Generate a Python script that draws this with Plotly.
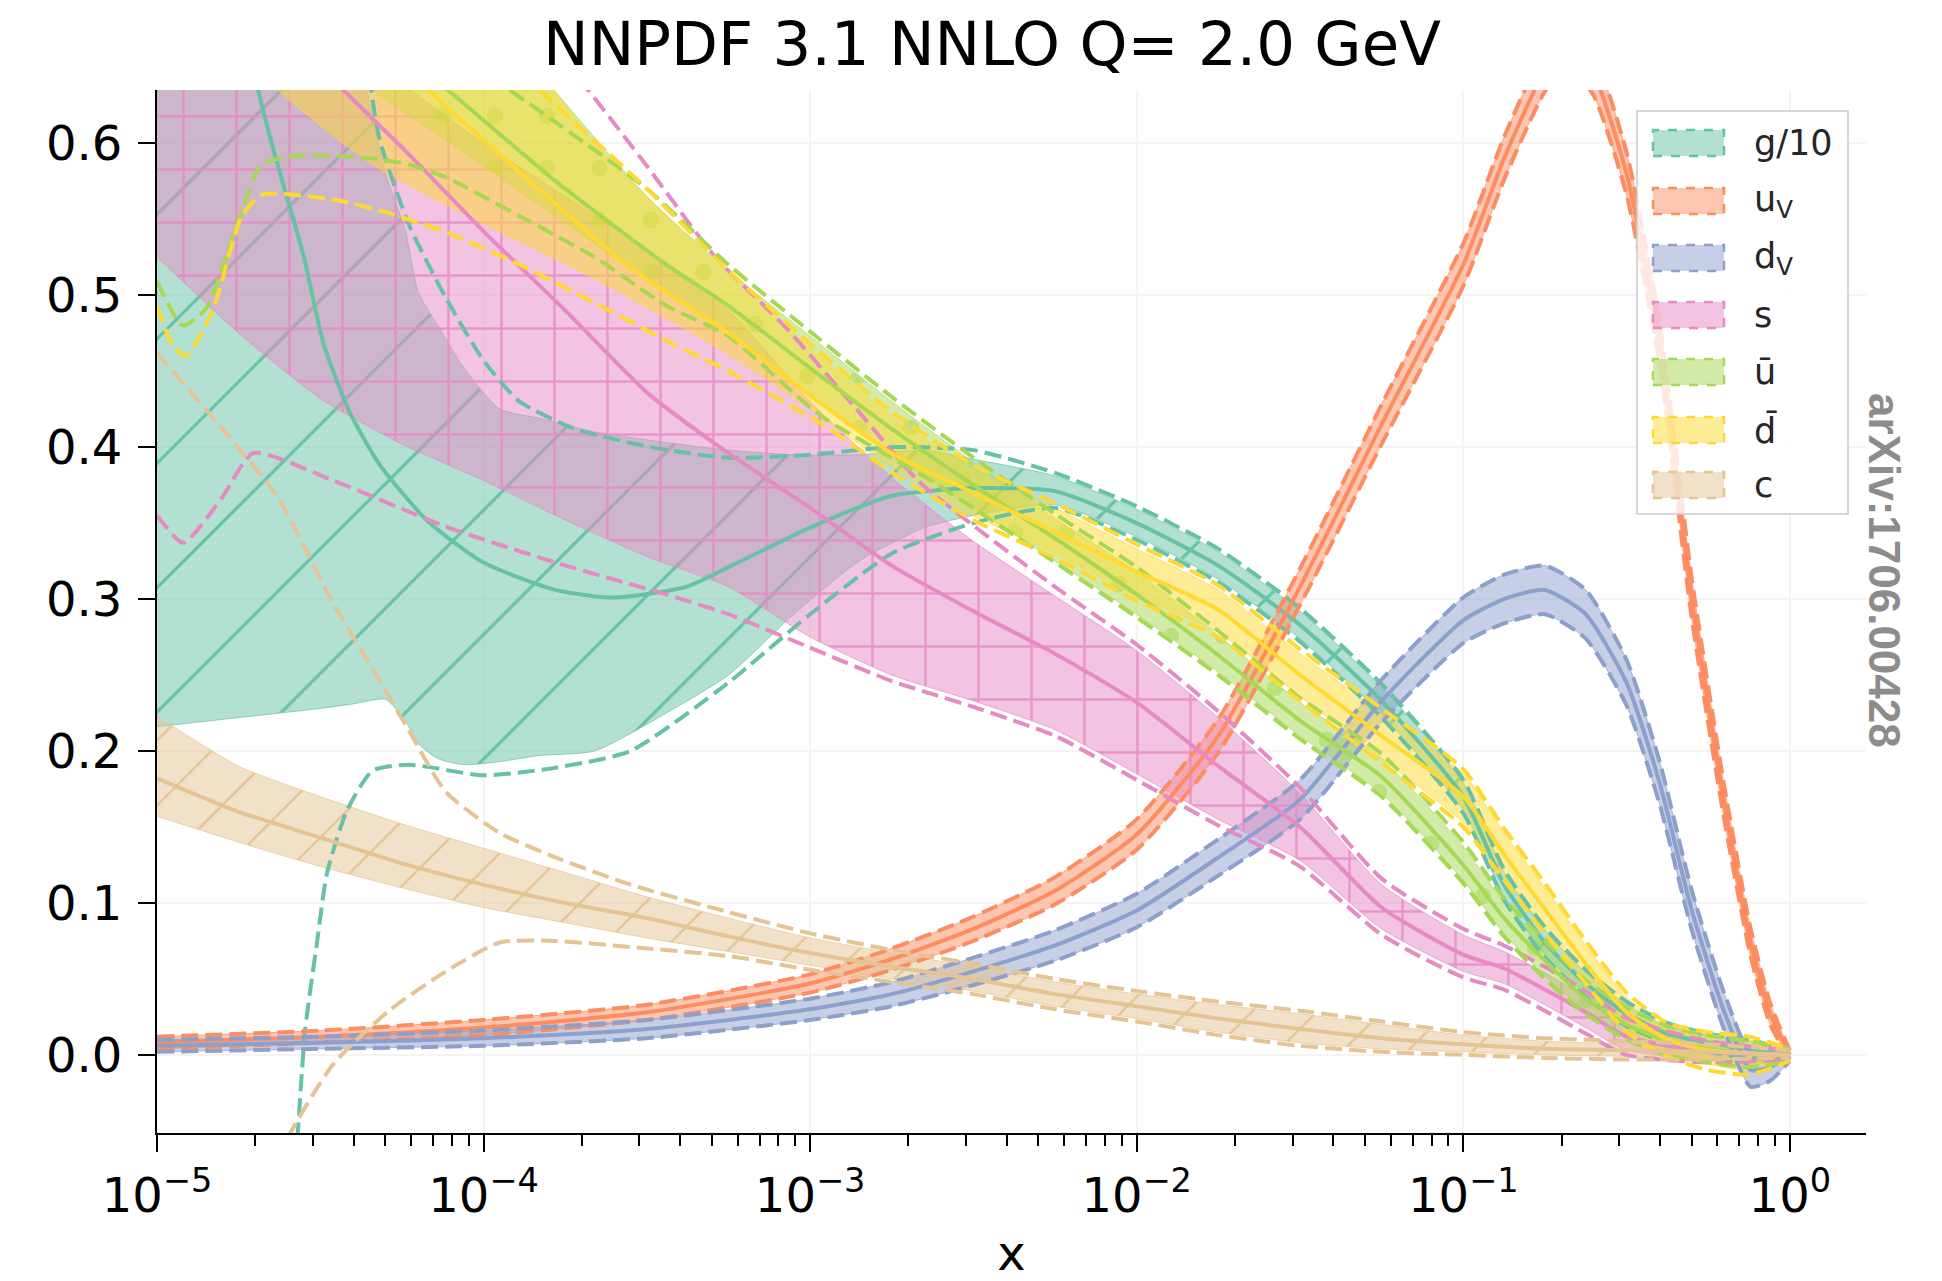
import plotly.graph_objects as go

# ------------------------------------------------------------------
# Data (x given as log10(x))
# ------------------------------------------------------------------
# gluon / 10
G_X = [-5.0, -4.85, -4.75, -4.69, -4.64, -4.55, -4.49, -4.41, -4.32, -4.17, -4.0, -3.78, -3.6, -3.38, -3.25,
       -3.0, -2.75, -2.5, -2.25, -2.0, -1.75, -1.5, -1.25, -1.0, -0.875, -0.75, -0.625, -0.5, -0.375, -0.25, -0.125, 0.0]
G_C = [1.05, 0.80, 0.70, 0.635, 0.593, 0.525, 0.468, 0.423, 0.389, 0.351, 0.324, 0.306, 0.301, 0.308, 0.321,
       0.347, 0.368, 0.373, 0.371, 0.35, 0.322, 0.283, 0.233, 0.17, 0.112, 0.074, 0.047, 0.027, 0.014, 0.008, 0.004, 0.0]
G_BX = [-5.0, -4.75, -4.5, -4.4, -4.3, -4.24, -4.2, -4.14, -4.06, -3.95, -3.83, -3.66, -3.44, -3.25, -3.05, -2.85,
        -2.65, -2.5, -2.25, -2.0, -1.75, -1.5, -1.25, -1.0, -0.875, -0.75, -0.625, -0.5, -0.375, -0.25, -0.125, 0.0]
G_LO = [0.216, 0.222, 0.228, 0.231, 0.234, 0.22, 0.205, 0.195, 0.191, 0.193, 0.197, 0.20, 0.225, 0.25, 0.29, 0.325,
        0.347, 0.355, 0.362, 0.341, 0.313, 0.274, 0.224, 0.161, 0.104, 0.066, 0.04, 0.021, 0.009, 0.003, -0.001, -0.002]
G_HI = [1.5, 1.2, 0.80, 0.68, 0.58, 0.543, 0.502, 0.48, 0.452, 0.425, 0.419, 0.41, 0.403, 0.398, 0.395, 0.395,
        0.398, 0.392, 0.381, 0.359, 0.331, 0.292, 0.242, 0.179, 0.12, 0.082, 0.054, 0.033, 0.019, 0.013, 0.009, 0.002]
G_DLX = [-4.6, -4.57, -4.546, -4.51, -4.48, -4.42, -4.34, -4.23, -4.0, -3.78, -3.55, -3.25, -3.0, -2.75, -2.5,
         -2.25, -2.0, -1.75, -1.5, -1.25, -1.0, -0.875, -0.75, -0.625, -0.5, -0.375, -0.25, -0.125, 0.0]
G_DLO = [-0.15, -0.055, 0.017, 0.074, 0.119, 0.16, 0.187, 0.191, 0.184, 0.189, 0.20, 0.245, 0.29, 0.33, 0.35,
         0.36, 0.339, 0.311, 0.272, 0.222, 0.159, 0.102, 0.064, 0.038, 0.019, 0.008, 0.002, -0.002, -0.003]
G_DHX = [-4.36, -4.32, -4.23, -4.115, -4.0, -3.89, -3.72, -3.49, -3.25, -3.0, -2.75, -2.5, -2.25, -2.0, -1.75,
         -1.5, -1.25, -1.0, -0.875, -0.75, -0.625, -0.5, -0.375, -0.25, -0.125, 0.0]
G_DHI = [0.66, 0.604, 0.547, 0.498, 0.457, 0.43, 0.412, 0.40, 0.393, 0.395, 0.40, 0.398, 0.383, 0.361, 0.333,
         0.294, 0.244, 0.181, 0.122, 0.084, 0.056, 0.035, 0.021, 0.014, 0.01, 0.003]

# u valence
UV_X = [-5.0, -4.5, -4.0, -3.5, -3.0, -2.75, -2.5, -2.25, -2.0, -1.75, -1.5, -1.25, -1.0, -0.875, -0.75, -0.68,
        -0.6, -0.5, -0.4, -0.3, -0.2, -0.12, -0.06, 0.0]
UV_C = [0.008, 0.012, 0.018, 0.028, 0.047, 0.063, 0.083, 0.108, 0.145, 0.21, 0.308, 0.415, 0.52, 0.59, 0.648, 0.665,
        0.645, 0.58, 0.47, 0.30, 0.165, 0.074, 0.027, 0.0]
UV_ERR = [0.004, 0.004, 0.005, 0.005, 0.006, 0.007, 0.008, 0.009, 0.01, 0.011, 0.012, 0.013, 0.014, 0.014, 0.014,
          0.014, 0.014, 0.014, 0.014, 0.013, 0.011, 0.009, 0.007, 0.003]

# d valence
DV_X = [-5.0, -4.5, -4.0, -3.5, -3.0, -2.75, -2.5, -2.25, -2.0, -1.75, -1.5, -1.25, -1.0, -0.875, -0.75, -0.625,
        -0.5, -0.4, -0.3, -0.2, -0.12, -0.06, 0.0]
DV_C = [0.006, 0.008, 0.011, 0.017, 0.03, 0.04, 0.055, 0.072, 0.095, 0.13, 0.168, 0.233, 0.286, 0.30, 0.306, 0.29,
        0.245, 0.18, 0.095, 0.028, -0.01, -0.008, 0.0]
DV_ERR = [0.004, 0.004, 0.005, 0.006, 0.007, 0.008, 0.009, 0.01, 0.011, 0.012, 0.013, 0.014, 0.015, 0.016, 0.016,
          0.016, 0.015, 0.014, 0.013, 0.012, 0.011, 0.009, 0.004]

# strange
S_X = [-5.0, -4.5, -4.43, -4.23, -4.0, -3.75, -3.5, -3.25, -3.0, -2.75, -2.5, -2.25, -2.0, -1.75, -1.5, -1.25,
       -1.0, -0.875, -0.75, -0.625, -0.5, -0.25, 0.0]
S_C = [0.755, 0.65, 0.635, 0.593, 0.542, 0.49, 0.436, 0.396, 0.36, 0.322, 0.292, 0.264, 0.232, 0.19, 0.15, 0.097,
       0.066, 0.057, 0.043, 0.028, 0.012, 0.002, 0.0]
S_BX = [-5.0, -4.75, -4.5, -4.25, -4.0, -3.75, -3.5, -3.25, -3.0, -2.75, -2.5, -2.25, -2.0, -1.75, -1.5, -1.25,
        -1.0, -0.875, -0.75, -0.625, -0.5, -0.25, 0.0]
S_LO = [0.525, 0.475, 0.432, 0.402, 0.378, 0.352, 0.328, 0.308, 0.275, 0.25, 0.233, 0.214, 0.185, 0.155, 0.128,
        0.083, 0.055, 0.047, 0.033, 0.018, 0.003, -0.003, -0.002]
S_HI = [0.85, 0.78, 0.70, 0.64, 0.60, 0.565, 0.53, 0.49, 0.43, 0.38, 0.338, 0.302, 0.266, 0.222, 0.172, 0.112,
        0.079, 0.068, 0.054, 0.038, 0.02, 0.007, 0.002]
S_DLX = [-5.0, -4.92, -4.8, -4.705, -4.46, -4.12, -3.78, -3.44, -3.25, -3.0, -2.75, -2.5, -2.25, -2.0, -1.75,
         -1.5, -1.25, -1.0, -0.875, -0.75, -0.625, -0.5, -0.25, 0.0]
S_DLO = [0.355, 0.337, 0.367, 0.396, 0.378, 0.348, 0.324, 0.303, 0.29, 0.268, 0.246, 0.229, 0.21, 0.181, 0.151,
         0.124, 0.079, 0.051, 0.043, 0.029, 0.014, 0.0, -0.005, -0.003]
S_DHX = [-3.9, -3.68, -3.5, -3.29, -3.08, -2.85, -2.67, -2.51, -2.25, -2.0, -1.75, -1.5, -1.25, -1.0, -0.875,
         -0.75, -0.625, -0.5, -0.25, 0.0]
S_DHI = [0.69, 0.635, 0.585, 0.525, 0.48, 0.423, 0.378, 0.35, 0.308, 0.27, 0.226, 0.176, 0.116, 0.083, 0.072,
         0.058, 0.042, 0.024, 0.009, 0.003]

# u-bar
UB_X = [-5.0, -4.5, -4.11, -3.78, -3.44, -3.25, -3.0, -2.75, -2.5, -2.25, -2.0, -1.75, -1.5, -1.25, -1.0, -0.875,
        -0.75, -0.625, -0.5, -0.375, -0.25, -0.125, 0.0]
UB_C = [0.79, 0.70, 0.635, 0.575, 0.52, 0.493, 0.452, 0.412, 0.375, 0.34, 0.303, 0.263, 0.22, 0.183, 0.125, 0.09,
        0.062, 0.037, 0.02, 0.009, 0.004, 0.001, 0.0]
UB_BX = [-5.0, -4.5, -4.34, -4.0, -3.5, -3.25, -3.0, -2.75, -2.5, -2.25, -2.0, -1.75, -1.5, -1.25, -1.0, -0.875,
         -0.75, -0.625, -0.5, -0.375, -0.25, -0.125, 0.0]
UB_LO = [0.72, 0.66, 0.635, 0.585, 0.51, 0.475, 0.435, 0.396, 0.36, 0.325, 0.29, 0.252, 0.21, 0.172, 0.115, 0.08,
         0.052, 0.029, 0.012, 0.002, -0.003, -0.006, -0.003]
UB_HI = [0.95, 0.82, 0.78, 0.69, 0.565, 0.516, 0.473, 0.43, 0.39, 0.353, 0.318, 0.276, 0.232, 0.195, 0.137, 0.1,
         0.072, 0.046, 0.028, 0.016, 0.01, 0.006, 0.003]
UB_DLX = [-5.0, -4.92, -4.85, -4.76, -4.68, -4.55, -4.34, -4.23, -4.11, -3.89, -3.66, -3.44, -3.25, -2.97, -2.63,
          -2.34, -2.0, -1.75, -1.5, -1.25, -1.0, -0.875, -0.75, -0.625, -0.5, -0.375, -0.25, -0.125, 0.0]
UB_DLO = [0.509, 0.48, 0.491, 0.543, 0.586, 0.592, 0.59, 0.586, 0.577, 0.552, 0.525, 0.493, 0.473, 0.421, 0.378,
          0.337, 0.288, 0.25, 0.208, 0.17, 0.113, 0.078, 0.05, 0.027, 0.01, 0.0, -0.005, -0.008, -0.004]
UB_DHX = [-3.92, -3.5, -3.25, -3.0, -2.75, -2.5, -2.25, -2.0, -1.75, -1.5, -1.25, -1.0, -0.875, -0.75, -0.625,
          -0.5, -0.375, -0.25, -0.125, 0.0]
UB_DHI = [0.635, 0.57, 0.52, 0.476, 0.433, 0.393, 0.356, 0.321, 0.279, 0.235, 0.198, 0.14, 0.103, 0.075, 0.049,
          0.031, 0.019, 0.013, 0.009, 0.004]

# d-bar
DB_X = [-5.0, -4.5, -4.17, -3.89, -3.55, -3.25, -3.0, -2.75, -2.5, -2.25, -2.0, -1.75, -1.5, -1.25, -1.0, -0.875,
        -0.75, -0.625, -0.5, -0.375, -0.25, -0.125, 0.0]
DB_C = [0.79, 0.70, 0.635, 0.581, 0.518, 0.475, 0.434, 0.396, 0.37, 0.344, 0.318, 0.293, 0.25, 0.21, 0.17, 0.132,
        0.096, 0.06, 0.028, 0.01, 0.003, 0.001, 0.0]
DB_BX = [-5.0, -4.63, -4.34, -4.0, -3.66, -3.25, -3.0, -2.75, -2.5, -2.25, -2.0, -1.75, -1.5, -1.25, -1.0, -0.875,
         -0.75, -0.625, -0.5, -0.375, -0.25, -0.125, 0.0]
DB_LO = [0.72, 0.635, 0.586, 0.547, 0.511, 0.461, 0.425, 0.387, 0.355, 0.33, 0.302, 0.278, 0.236, 0.195, 0.153,
         0.118, 0.083, 0.05, 0.018, 0.002, -0.006, -0.01, -0.003]
DB_HI = [0.95, 0.86, 0.80, 0.70, 0.60, 0.513, 0.465, 0.42, 0.385, 0.36, 0.333, 0.306, 0.264, 0.225, 0.185, 0.146,
         0.11, 0.072, 0.038, 0.018, 0.012, 0.01, 0.003]
DB_DLX = [-5.0, -4.95, -4.91, -4.83, -4.74, -4.68, -4.46, -4.29, -4.11, -3.89, -3.66, -3.44, -3.25, -2.97, -2.74,
          -2.5, -2.25, -2.0, -1.75, -1.5, -1.25, -1.0, -0.875, -0.75, -0.625, -0.5, -0.375, -0.25, -0.125, 0.0]
DB_DLO = [0.493, 0.466, 0.46, 0.49, 0.552, 0.566, 0.563, 0.554, 0.541, 0.52, 0.495, 0.47, 0.45, 0.416, 0.382,
          0.352, 0.327, 0.299, 0.275, 0.233, 0.192, 0.15, 0.115, 0.08, 0.047, 0.015, -0.001, -0.01, -0.013, -0.004]
DB_DHX = [-3.83, -3.5, -3.25, -3.0, -2.75, -2.5, -2.25, -2.0, -1.75, -1.5, -1.25, -1.0, -0.875, -0.75, -0.625,
          -0.5, -0.375, -0.25, -0.125, 0.0]
DB_DHI = [0.635, 0.57, 0.516, 0.468, 0.423, 0.388, 0.363, 0.336, 0.309, 0.267, 0.228, 0.188, 0.149, 0.113, 0.075,
          0.041, 0.021, 0.015, 0.012, 0.004]

# charm
C_X = [-5.0, -4.75, -4.5, -4.25, -4.0, -3.75, -3.5, -3.25, -3.0, -2.75, -2.5, -2.25, -2.0, -1.75, -1.5, -1.25,
       -1.0, -0.75, -0.5, -0.25, 0.0]
C_C = [0.182, 0.16, 0.143, 0.126, 0.112, 0.1, 0.09, 0.078, 0.067, 0.058, 0.05, 0.04, 0.032, 0.024, 0.017, 0.011,
       0.007, 0.004, 0.003, 0.002, 0.0]
C_LO = [0.157, 0.14, 0.124, 0.11, 0.097, 0.087, 0.077, 0.068, 0.059, 0.05, 0.042, 0.032, 0.024, 0.015, 0.008,
        0.004, 0.002, 0.0, -0.001, -0.002, -0.002]
C_HI = [0.223, 0.19, 0.17, 0.152, 0.136, 0.12, 0.104, 0.09, 0.077, 0.067, 0.058, 0.048, 0.04, 0.033, 0.027, 0.02,
        0.013, 0.009, 0.007, 0.005, 0.002]
C_DHX = [-5.0, -4.8, -4.63, -4.46, -4.34, -4.23, -4.115, -3.95, -3.78, -3.55, -3.25, -3.0, -2.75, -2.5, -2.25,
         -2.0, -1.75, -1.5, -1.25, -1.0, -0.75, -0.5, -0.25, 0.0]
C_DHI = [0.462, 0.412, 0.367, 0.297, 0.254, 0.214, 0.173, 0.146, 0.13, 0.112, 0.094, 0.08, 0.069, 0.06, 0.05,
         0.042, 0.035, 0.029, 0.022, 0.015, 0.011, 0.009, 0.007, 0.003]
C_DLX = [-4.62, -4.6, -4.46, -4.29, -4.115, -3.95, -3.78, -3.55, -3.25, -3.0, -2.75, -2.5, -2.25, -2.0, -1.75,
         -1.5, -1.25, -1.0, -0.75, -0.5, -0.25, 0.0]
C_DLO = [-0.07, -0.055, -0.006, 0.029, 0.055, 0.074, 0.075, 0.071, 0.065, 0.056, 0.048, 0.04, 0.03, 0.022, 0.013,
         0.006, 0.002, 0.0, -0.002, -0.003, -0.003, -0.002]

# axes / labels
X_TICK_EXP = [-5, -4, -3, -2, -1, 0]
X_TICK_TEXT = ["10<sup>−5</sup>", "10<sup>−4</sup>", "10<sup>−3</sup>", "10<sup>−2</sup>", "10<sup>−1</sup>",
               "10<sup>0</sup>"]
Y_TICKS = [0.0, 0.1, 0.2, 0.3, 0.4, 0.5, 0.6]
Y_TICK_TEXT = ["0.0", "0.1", "0.2", "0.3", "0.4", "0.5", "0.6"]
LEGEND_LABELS = ["g/10", "u<sub>V</sub>", "d<sub>V</sub>", "s", "ū", "d\u0304", "c"]

COLORS = {"g": "#66c2a5", "uv": "#fc8d62", "dv": "#8da0cb", "s": "#e78ac3",
          "ub": "#a6d854", "db": "#ffd92f", "c": "#e5c494"}
LEGEND_KEYS = ["g", "uv", "dv", "s", "ub", "db", "c"]

# ------------------------------------------------------------------
# page geometry (the page body adds an 8 px offset)
OFF = 8
W, H = 1942 - OFF, 1281 - OFF
PL, PR, PT, PB = 157, 1866, 90, 1133          # plot area in screen pixels
FONT = "DejaVu Sans"


def X(a):
    return [10.0 ** v for v in a]


def rgba(h, a):
    h = h.lstrip("#")
    return "rgba(%d,%d,%d,%.3f)" % (int(h[0:2], 16), int(h[2:4], 16), int(h[4:6], 16), a)


fig = go.Figure()
SPL = dict(shape="spline", smoothing=0.6)
DASH = "17px,7px"
LW = 4.0


def band(xl, lo, xh, hi, col, pat=None, psize=60, psol=0.04, fgop=1.0):
    fig.add_trace(go.Scatter(x=X(xl), y=lo, mode="lines", hoverinfo="skip", showlegend=False,
                             line=dict(color=rgba(col, 0.7), width=1, **SPL)))
    kw = {}
    if pat:
        kw["fillpattern"] = dict(shape=pat, size=psize, solidity=psol, fgcolor=col, fgopacity=fgop,
                                 fillmode="overlay")
    fig.add_trace(go.Scatter(x=X(xh), y=hi, mode="lines", hoverinfo="skip", showlegend=False,
                             fill="tonexty", fillcolor=rgba(col, 0.5),
                             line=dict(color=rgba(col, 0.7), width=1, **SPL), **kw))


def curve(xs, ys, col, dash=None, width=LW):
    fig.add_trace(go.Scatter(x=X(xs), y=ys, mode="lines", hoverinfo="skip", showlegend=False,
                             line=dict(color=col, width=width, dash=dash, **SPL)))


uv_lo = [c - e for c, e in zip(UV_C, UV_ERR)]
uv_hi = [c + e for c, e in zip(UV_C, UV_ERR)]
dv_lo = [c - e for c, e in zip(DV_C, DV_ERR)]
dv_hi = [c + e for c, e in zip(DV_C, DV_ERR)]

# ---- bands (filled, hatched) ----
band(G_BX, G_LO, G_BX, G_HI, COLORS["g"], "/", 88, 0.035)
band(UV_X, uv_lo, UV_X, uv_hi, COLORS["uv"])
band(DV_X, dv_lo, DV_X, dv_hi, COLORS["dv"])
band(S_BX, S_LO, S_BX, S_HI, COLORS["s"], "+", 53, 0.09, 0.8)
band(UB_BX, UB_LO, UB_BX, UB_HI, COLORS["ub"], ".", 52, 0.08, 0.5)
band(DB_BX, DB_LO, DB_BX, DB_HI, COLORS["db"])
band(C_X, C_LO, C_X, C_HI, COLORS["c"], "/", 46, 0.05)

# ---- dashed 1-sigma lines and central values ----
for xs_lo, ys_lo, xs_hi, ys_hi, xs_c, ys_c, key in [
    (G_DLX, G_DLO, G_DHX, G_DHI, G_X, G_C, "g"),
    (UV_X, uv_lo, UV_X, uv_hi, UV_X, UV_C, "uv"),
    (DV_X, dv_lo, DV_X, dv_hi, DV_X, DV_C, "dv"),
    (S_DLX, S_DLO, S_DHX, S_DHI, S_X, S_C, "s"),
    (UB_DLX, UB_DLO, UB_DHX, UB_DHI, UB_X, UB_C, "ub"),
    (DB_DLX, DB_DLO, DB_DHX, DB_DHI, DB_X, DB_C, "db"),
    (C_DLX, C_DLO, C_DHX, C_DHI, C_X, C_C, "c"),
]:
    col = COLORS[key]
    curve(xs_lo, ys_lo, col, DASH)
    curve(xs_hi, ys_hi, col, DASH)
    curve(xs_c, ys_c, col)

# ------------------------------------------------------------------
# custom legend (matplotlib style)
def px_x(p):
    return (p - PL) / (PR - PL)


def px_y(p):
    return (PB - p) / (PB - PT)


shapes = []
annotations = []
shapes.append(dict(type="rect", xref="paper", yref="paper", layer="above",
                   x0=px_x(1637), x1=px_x(1848), y0=px_y(514), y1=px_y(111),
                   fillcolor="rgba(255,255,255,0.8)", line=dict(color="#cccccc", width=1.5)))
ENTRY_Y = [143, 201, 258, 315, 372, 430, 485]
for key, lab, yc in zip(LEGEND_KEYS, LEGEND_LABELS, ENTRY_Y):
    col = COLORS[key]
    shapes.append(dict(type="rect", xref="paper", yref="paper", layer="above",
                       x0=px_x(1653), x1=px_x(1724), y0=px_y(yc + 13), y1=px_y(yc - 13),
                       fillcolor=rgba(col, 0.5), line=dict(color=col, width=2.5, dash="dash")))
    annotations.append(dict(xref="paper", yref="paper", x=px_x(1752), y=px_y(yc), text=lab,
                            showarrow=False, xanchor="left", yanchor="middle",
                            font=dict(family=FONT, size=35, color="#262626")))

annotations.append(dict(xref="paper", yref="paper", x=px_x(1885), y=px_y(570), text="<b>arXiv:1706.00428</b>",
                        showarrow=False, textangle=90, xanchor="center", yanchor="middle",
                        font=dict(family="Liberation Sans", size=44, color="#8c8c8c")))

minor_vals = [m * 10.0 ** k for k in range(-5, 0) for m in range(2, 10)]

fig.update_layout(
    width=W, height=H,
    margin=dict(l=PL - OFF, r=W - (PR - OFF), t=PT - OFF, b=H - (PB - OFF), autoexpand=False),
    paper_bgcolor="white", plot_bgcolor="white",
    showlegend=False,
    font=dict(family=FONT, color="black"),
    title=dict(text="NNPDF 3.1 NNLO Q= 2.0 GeV", x=(992 - OFF) / W, y=1 - (44 - OFF) / H,
               xref="container", yref="container", xanchor="center", yanchor="middle",
               font=dict(family=FONT, size=61, color="black")),
    xaxis=dict(type="log", range=[-5, 0.2333], tickmode="array", automargin=False,
               tickvals=[10.0 ** e for e in X_TICK_EXP], ticktext=X_TICK_TEXT,
               ticks="outside", ticklen=17, tickwidth=2, tickcolor="black", ticklabelstandoff=2,
               showline=True, linecolor="black", linewidth=2.2, mirror=False,
               showgrid=True, gridcolor="#f4f4f4", gridwidth=1.5, zeroline=False,
               tickfont=dict(family=FONT, size=48, color="black"),
               minor=dict(tickmode="array", tickvals=minor_vals, ticks="outside", ticklen=11,
                          tickwidth=1.5, tickcolor="black", showgrid=False),
               title=dict(text="x", font=dict(family=FONT, size=48, color="black"), standoff=22)),
    yaxis=dict(range=[-0.0514, 0.635], tickmode="array", tickvals=Y_TICKS, ticktext=Y_TICK_TEXT,
               automargin=False,
               ticks="outside", ticklen=17, tickwidth=2, tickcolor="black", ticklabelstandoff=6,
               showline=True, linecolor="black", linewidth=2.2, mirror=False,
               showgrid=True, gridcolor="#f4f4f4", gridwidth=1.5, zeroline=False,
               tickfont=dict(family=FONT, size=48, color="black")),
    shapes=shapes,
    annotations=annotations,
)

fig.write_html("out.html")
